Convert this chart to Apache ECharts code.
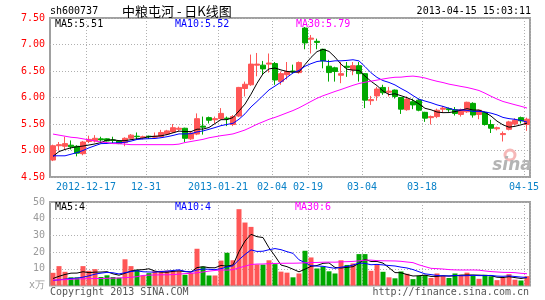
<!DOCTYPE html>
<html><head><meta charset="utf-8">
<script src="https://cdn.jsdelivr.net/npm/echarts/dist/echarts.min.js"></script>
<style>html,body{margin:0;padding:0;background:#fff}#c{width:545px;height:300px}</style>
</head><body><div id="c"></div>
<script>
const dates = ['2012-12-07','2012-12-10','2012-12-11','2012-12-12','2012-12-13','2012-12-14','2012-12-17','2012-12-18','2012-12-19','2012-12-20','2012-12-21','2012-12-24','2012-12-25','2012-12-26','2012-12-27','2012-12-28','2012-12-31','2013-01-04','2013-01-07','2013-01-08','2013-01-09','2013-01-10','2013-01-11','2013-01-14','2013-01-15','2013-01-16','2013-01-17','2013-01-18','2013-01-21','2013-01-22','2013-01-23','2013-01-24','2013-01-28','2013-01-29','2013-01-30','2013-01-31','2013-02-01','2013-02-04','2013-02-05','2013-02-06','2013-02-07','2013-02-08','2013-02-18','2013-02-19','2013-02-20','2013-02-21','2013-02-22','2013-02-25','2013-02-26','2013-02-27','2013-02-28','2013-03-01','2013-03-04','2013-03-05','2013-03-06','2013-03-07','2013-03-08','2013-03-11','2013-03-12','2013-03-13','2013-03-14','2013-03-15','2013-03-18','2013-03-19','2013-03-20','2013-03-21','2013-03-22','2013-03-25','2013-03-26','2013-03-27','2013-03-28','2013-03-29','2013-04-02','2013-04-03','2013-04-08','2013-04-09','2013-04-10','2013-04-11','2013-04-12','2013-04-15'];
const tickDates = ['2012-12-17','2012-12-31','2013-01-21','2013-02-04','2013-02-19','2013-03-04','2013-03-18','2013-04-15'];
const tickLabels = ['2012-12-17','12-31','2013-01-21','02-04','02-19','03-04','03-18','04-15'];

const opens  = [4.82,5.09,5.08,5.10,5.08,4.94,5.17,5.18,5.22,5.22, 5.20,5.18,5.15,5.23,5.27,5.24,5.27,5.25,5.26,5.31, 5.35,5.40,5.42,5.22,5.31,5.46,5.62,5.58,5.60,5.61, 5.49,5.65,6.17,6.24,6.61,6.61,6.63,6.64,6.30,6.43, 6.50,6.47,7.31,7.10,7.06,6.91,6.59,6.56,6.42,6.59, 6.52,6.60,6.45,5.94,6.03,6.19,6.10,6.14,6.00,5.77, 5.92,5.95,5.72,5.62,5.64,5.78,5.79,5.77,5.68,5.73, 5.89,5.68,5.72,5.49,5.41,5.30,5.40,5.50,5.62,5.49];
const closes = [5.09,5.11,5.13,5.07,4.95,5.16,5.21,5.23,5.20,5.18, 5.19,5.13,5.23,5.29,5.26,5.26,5.26,5.27,5.34,5.37, 5.43,5.42,5.23,5.33,5.60,5.44,5.57,5.60,5.70,5.60, 5.64,6.19,6.25,6.63,6.63,6.54,6.65,6.33,6.45,6.49, 6.48,6.66,7.03,7.12,7.04,6.69,6.47,6.49,6.45,6.57, 6.60,6.45,5.95,5.96,6.16,6.09,6.12,6.02,5.78,5.97, 5.86,5.76,5.61,5.64,5.76,5.80,5.77,5.70,5.77,5.91, 5.67,5.76,5.49,5.42,5.43,5.32,5.54,5.57,5.56,5.59];
const lows   = [4.80,5.00,5.02,5.02,4.89,4.91,5.14,5.15,5.14,5.17, 5.14,5.12,5.08,5.21,5.20,5.21,5.22,5.24,5.25,5.29, 5.33,5.37,5.16,5.20,5.29,5.30,5.51,5.51,5.58,5.46, 5.46,5.63,6.02,6.22,6.40,6.44,6.47,6.24,6.24,6.34, 6.45,6.45,6.91,6.83,6.91,6.55,6.30,6.30,6.27,6.39, 6.42,6.30,5.80,5.86,5.94,6.05,6.02,5.98,5.69,5.75, 5.78,5.74,5.54,5.49,5.61,5.71,5.73,5.66,5.64,5.71, 5.62,5.59,5.47,5.33,5.38,5.17,5.38,5.47,5.51,5.37];
const highs  = [5.11,5.16,5.26,5.19,5.10,5.18,5.28,5.29,5.26,5.23, 5.26,5.18,5.25,5.31,5.34,5.28,5.28,5.34,5.39,5.39, 5.50,5.45,5.43,5.36,5.70,5.64,5.64,5.64,5.80,5.64, 5.67,6.20,6.30,6.81,6.84,6.69,6.83,6.67,6.49,6.67, 6.62,6.68,7.33,7.18,7.11,6.92,6.71,6.58,6.67,6.67, 6.67,6.67,6.46,6.03,6.20,6.24,6.20,6.15,6.01,6.02, 5.98,5.98,5.73,5.66,5.79,5.84,5.81,5.82,5.79,5.92, 5.91,5.77,5.73,5.58,5.45,5.36,5.56,5.61,5.64,5.62];
// volume, 万手
const volumes = [7.6,11.6,8.2,4.9,4.9,11.6,8.8,9.8,5.1,6.1, 5.1,4.7,15.7,11.6,9.4,6.0,7.4,8.6,8.8,8.9, 8.7,8.8,6.4,7.7,22.0,11.3,6.0,6.0,14.9,19.6, 15.1,45.7,37.7,35.1,12.6,12.5,15.1,12.8,8.3,7.7, 4.9,7.2,20.8,16.8,10.2,11.3,8.5,7.2,15.1,12.3, 13.2,18.8,18.8,8.8,12.4,8.2,4.9,4.3,8.4,7.0, 3.8,5.7,6.2,4.5,7.2,5.7,4.5,7.2,6.4,7.7, 5.7,4.0,6.4,5.5,3.2,4.6,6.8,3.5,3.0,5.6];

// moving-average values before enough in-window data exists
const ma5Head  = [4.89,4.98,5.02,5.05];
const ma10Head = [4.90,4.90,4.90,4.93,4.96,5.00,5.05,5.09,5.13];
const ma30Head = [5.31,5.29,5.27,5.25,5.24,5.22,5.20,5.18,5.16,5.15,5.13,5.13,5.12,5.11,5.11,5.11,5.11,5.11,5.11,5.11,5.11,5.12,5.15,5.17,5.19,5.21,5.24,5.26,5.28];
const vma5Head  = [4.2,5.5,6.6,7.4];
const vma10Head = [3.0,3.4,3.8,4.2,4.4,5.0,5.8,6.8,7.4];
const vma30Head = [3.2,3.4,3.5,3.7,3.9,4.0,4.1,4.2,4.2,4.3,4.4,4.5,4.7,4.9,5.3,6.0,6.2,6.3,6.4,6.4,6.5,6.8,7.1,7.3,7.6,8.1,8.6,9.0,9.3];

const priceMaText = ['MA5:5.51','MA10:5.52','MA30:5.79'];
const volMaText = ['MA5:4','MA10:4','MA30:6'];

function ma(src, n, head){
  return src.map((v,i)=>{
    if(i < n-1) return head[i];
    let s=0; for(let j=i-n+1;j<=i;j++) s+=src[j];
    return +(s/n).toFixed(3);
  });
}

const UP='#ff5656', DOWN='#00a800';
const MONO='"DejaVu Sans Mono", monospace';
const GRID='#b0b0b0';
const isTick=(i,v)=>tickDates.indexOf(v)>=0;

const candle = opens.map((o,i)=>[o,closes[i],lows[i],highs[i]]);
const volBars = volumes.map((v,i)=>({value:v,itemStyle:{color: closes[i]>=opens[i]?UP:DOWN}}));

function txt(x,y,text,fill,font,align){
  return {type:'text', x:x, y:y, silent:true, z:100,
    style:{text:text, fill:fill, font:font, textAlign:align||'left', align:align||'left', textVerticalAlign:'middle', verticalAlign:'middle'}};
}

const chart = echarts.init(document.getElementById('c'), null, {renderer:'canvas'});
const lineS = (name,data,color,xi,yi)=>({name,type:'line',data,xAxisIndex:xi,yAxisIndex:yi,symbol:'none',
  lineStyle:{color,width:1},itemStyle:{color},z:5,silent:true});

chart.setOption({
  animation:false,
  backgroundColor:'#fff',
  grid:[
    {left:50, top:18, width:480, height:159, show:true, borderColor:'#a0a0a0', borderWidth:2, containLabel:false},
    {left:50, top:202, width:480, height:83.5, show:true, borderColor:'#a0a0a0', borderWidth:2, containLabel:false}
  ],
  xAxis:[
    {type:'category', gridIndex:0, data:dates, boundaryGap:true,
     axisLine:{show:false}, axisTick:{show:false},
     axisLabel:{interval:isTick, formatter:v=>tickLabels[tickDates.indexOf(v)], color:'#0a82c8',
       fontFamily:MONO, fontSize:10, margin:5, padding:[0,6,0,0]},
     splitLine:{show:true, interval:isTick, lineStyle:{color:GRID, type:[1,2], width:1}}},
    {type:'category', gridIndex:1, data:dates, boundaryGap:true,
     axisLine:{show:false}, axisTick:{show:false}, axisLabel:{show:false},
     splitLine:{show:true, interval:isTick, lineStyle:{color:GRID, type:[1,2], width:1}}}
  ],
  yAxis:[
    {type:'value', gridIndex:0, min:4.5, max:7.5, interval:0.5,
     axisLine:{show:false}, axisTick:{show:false},
     axisLabel:{color:'#ff0000', fontFamily:MONO, fontSize:10, margin:5, formatter:v=>v.toFixed(2)},
     splitLine:{lineStyle:{color:GRID, type:[1,2], width:1}}},
    {type:'value', gridIndex:1, min:0, max:50, interval:10,
     axisLine:{show:false}, axisTick:{show:false},
     axisLabel:{color:'#9a9a9a', fontFamily:MONO, fontSize:10, margin:5, formatter:v=>v===0?'x万':String(v)},
     splitLine:{lineStyle:{color:GRID, type:[1,2], width:1}}}
  ],
  series:[
    {type:'candlestick', xAxisIndex:0, yAxisIndex:0, data:candle, barWidth:5, silent:true,
     itemStyle:{color:UP, color0:DOWN, borderColor:UP, borderColor0:DOWN, borderWidth:1}},
    lineS('MA5', ma(closes,5,ma5Head), '#000000',0,0),
    lineS('MA10', ma(closes,10,ma10Head), '#0000ff',0,0),
    lineS('MA30', ma(closes,30,ma30Head), '#ff00ff',0,0),
    {type:'bar', xAxisIndex:1, yAxisIndex:1, data:volBars, barWidth:5, silent:true},
    lineS('VMA5', ma(volumes,5,vma5Head), '#000000',1,1),
    lineS('VMA10', ma(volumes,10,vma10Head), '#0000ff',1,1),
    lineS('VMA30', ma(volumes,30,vma30Head), '#ff00ff',1,1)
  ],
  graphic:[
    txt(50,11,'sh600737','#000','10px '+MONO),
    txt(122,11,'中粮屯河 - 日K线图','#000','13px "Noto Sans CJK SC"'),
    txt(531,11,'2013-04-15 15:03:11','#000','10px '+MONO,'right'),
    txt(55,24,priceMaText[0],'#000','10px '+MONO),
    txt(175,24,priceMaText[1],'#0000ff','10px '+MONO),
    txt(296,24,priceMaText[2],'#ff00ff','10px '+MONO),
    txt(55,207,volMaText[0],'#000','10px '+MONO),
    txt(175,207,volMaText[1],'#0000ff','10px '+MONO),
    txt(295,207,volMaText[2],'#ff00ff','10px '+MONO),
    txt(50,292,'Copyright 2013 SINA.COM','#555','10px '+MONO),
    txt(529,292,'http://finance.sina.com.cn','#555','10px '+MONO,'right'),
    {type:'circle', shape:{cx:510,cy:155,r:5}, silent:true, z:1,
     style:{fill:'none', stroke:'#f6b8b8', lineWidth:3}},
    txt(512,166,'sina','#b4b4b4','italic bold 17px "DejaVu Sans"','center')
  ]
});
</script>
</body></html>
